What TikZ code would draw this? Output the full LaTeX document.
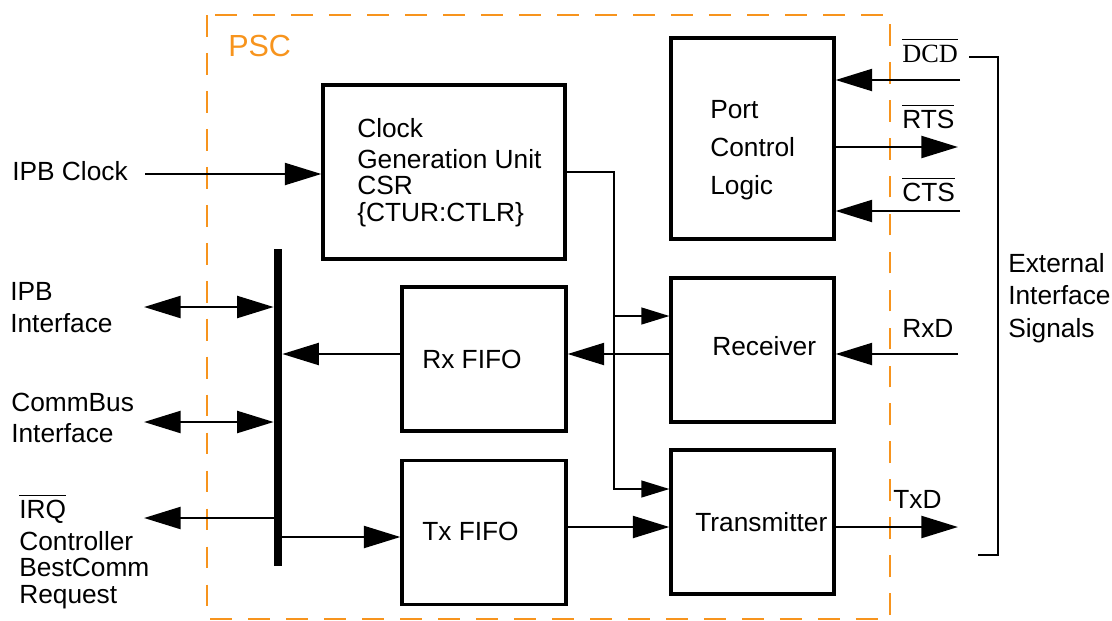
\documentclass[tikz,border=0pt]{standalone}
\usepackage{fontspec}
\setmainfont{Liberation Sans}
\newfontfamily\timesfont{Liberation Serif}
\usepackage{xcolor}
\usetikzlibrary{arrows.meta}
\definecolor{pscorange}{RGB}{247,148,29}
\newcommand{\negsig}[1]{$\overline{\mbox{\rule{0pt}{15pt}#1}}$}
\tikzset{
blk/.style={draw,line width=2.2pt,minimum width=4.1cm,minimum height=3.6cm,inner sep=0},
lbl/.style={inner sep=0,font=\fontsize{18.7}{19}\selectfont},
sig/.style={line width=2pt},
clkln/.style={line width=1.2pt,-{Triangle[length=20pt,width=12pt]}}
}

\begin{document}
\begin{tikzpicture}[x=0.025cm,y=-0.025cm,>={Triangle[length=26pt,width=15.5pt]}]
\useasboundingbox (0,0) rectangle (1112,620);
\draw[pscorange,line width=2pt,dash pattern=on 15.5pt off 11.5pt] (207,15) rectangle (890,619);
\node[lbl,anchor=base west,pscorange,font=\fontsize{21.7}{24}\selectfont] (psc) at (228,56) {PSC};
% blocks
\node[blk,minimum width=6.05cm,minimum height=4.35cm] (cgu) at (444,172) {};
\node[blk,minimum width=4.075cm,minimum height=5.025cm] (port) at (752.5,138.5) {};
\node[blk,minimum width=4.075cm] (rcv) at (752.5,350) {};
\node[blk,minimum width=4.075cm] (xmt) at (752.5,522) {};
\node[blk] (rxf) at (484,359) {};
\node[blk] (txf) at (484,532.5) {};
\node[fill=black,inner sep=0,minimum width=0.2cm,minimum height=7.925cm] (bus) at (278,407.5) {};
\node[lbl,anchor=north west,align=left,font=\fontsize{18.7}{19.1}\selectfont] (cgutxt) at (357,118) {Clock\\[2.8pt]Generation Unit\\CSR\\\{CTUR:CTLR\}};
\node[lbl,anchor=north west,align=left,font=\fontsize{18.7}{26.9}\selectfont] (porttxt) at (710,100) {Port\\Control\\Logic};
\node[lbl,anchor=base west] (rcvtxt) at (712,355) {Receiver};
\node[lbl,anchor=base west] (xmttxt) at (695,531) {Transmitter};
\node[lbl,anchor=base west] (rxftxt) at (422,368) {Rx FIFO};
\node[lbl,anchor=base west] (txftxt) at (422,540) {Tx FIFO};
% left side signals
\node[lbl,anchor=base west] (ipbclk) at (12,180) {IPB Clock};
\node[lbl,anchor=north west,align=left,font=\fontsize{18.7}{22.7}\selectfont] (ipbif) at (10,282) {IPB\\Interface};
\node[lbl,anchor=north west,align=left,font=\fontsize{18.7}{22}\selectfont] (cbif) at (11,393) {CommBus\\Interface};
\node[lbl,anchor=base west] (irq) at (19,518) {\negsig{IRQ}};
\node[lbl,anchor=north west,align=left,font=\fontsize{18.7}{18.8}\selectfont] (irqtxt) at (19,531) {Controller\\BestComm\\Request};
% right side signals
\node[lbl,anchor=base west] (dcd) at (902,62) {\timesfont\negsig{DCD}};
\node[lbl,anchor=base west] (rts) at (902,128) {\negsig{RTS}};
\node[lbl,anchor=base west] (cts) at (902,201) {\negsig{CTS}};
\node[lbl,anchor=base west] (rxd) at (902,337) {RxD};
\node[lbl,anchor=base west] (txd) at (893,508) {TxD};
\node[lbl,anchor=north west,align=left,font=\fontsize{18.7}{23}\selectfont] (ext) at (1008,253) {External\\Interface\\Signals};
\coordinate (ipbclkin) at (145,174);
\coordinate (ipbin) at (144,307);
\coordinate (cbin) at (144,422);
\coordinate (irqout) at (144,518);
\coordinate (dcdin) at (960,80);
\coordinate (rtsout) at (958,147);
\coordinate (ctsin) at (960,211);
\coordinate (rxdin) at (958,354);
\coordinate (txdout) at (958,527);
% connections
\draw[sig,->] (ipbclkin) -- (ipbclkin -| cgu.west);
\draw[sig,<->] (ipbin) -- (ipbin -| bus.west);
\draw[sig,<->] (cbin) -- (cbin -| bus.west);
\draw[sig,->] (irqout -| bus.west) -- (irqout);
\draw[sig,->] (bus.east |- 0,537) -- (txf.west |- 0,537);
\draw[sig,->] (rxf.west |- 0,354) -- (bus.east |- 0,354);
\draw[sig,->] (rcv.west |- 0,354) -- (rxf.east |- 0,354);
\draw[sig,->] (txf.east |- 0,527) -- (xmt.west |- 0,527);
\draw[sig,->] (xmt.east |- txdout) -- (txdout);
\draw[sig,->] (rxdin) -- (rxdin -| rcv.east);
\draw[sig,->] (dcdin) -- (dcdin -| port.east);
\draw[sig,->] (port.east |- rtsout) -- (rtsout);
\draw[sig,->] (ctsin) -- (ctsin -| port.east);
\draw[clkln] (cgu.east) -| (614,489) -- (xmt.west |- 0,489);
\draw[clkln] (614,316) -- (rcv.west |- 0,316);
\draw[line width=1.3pt] (969,57) -- (998,57) -- (998,555) -- (978,555);
\end{tikzpicture}
\end{document}
